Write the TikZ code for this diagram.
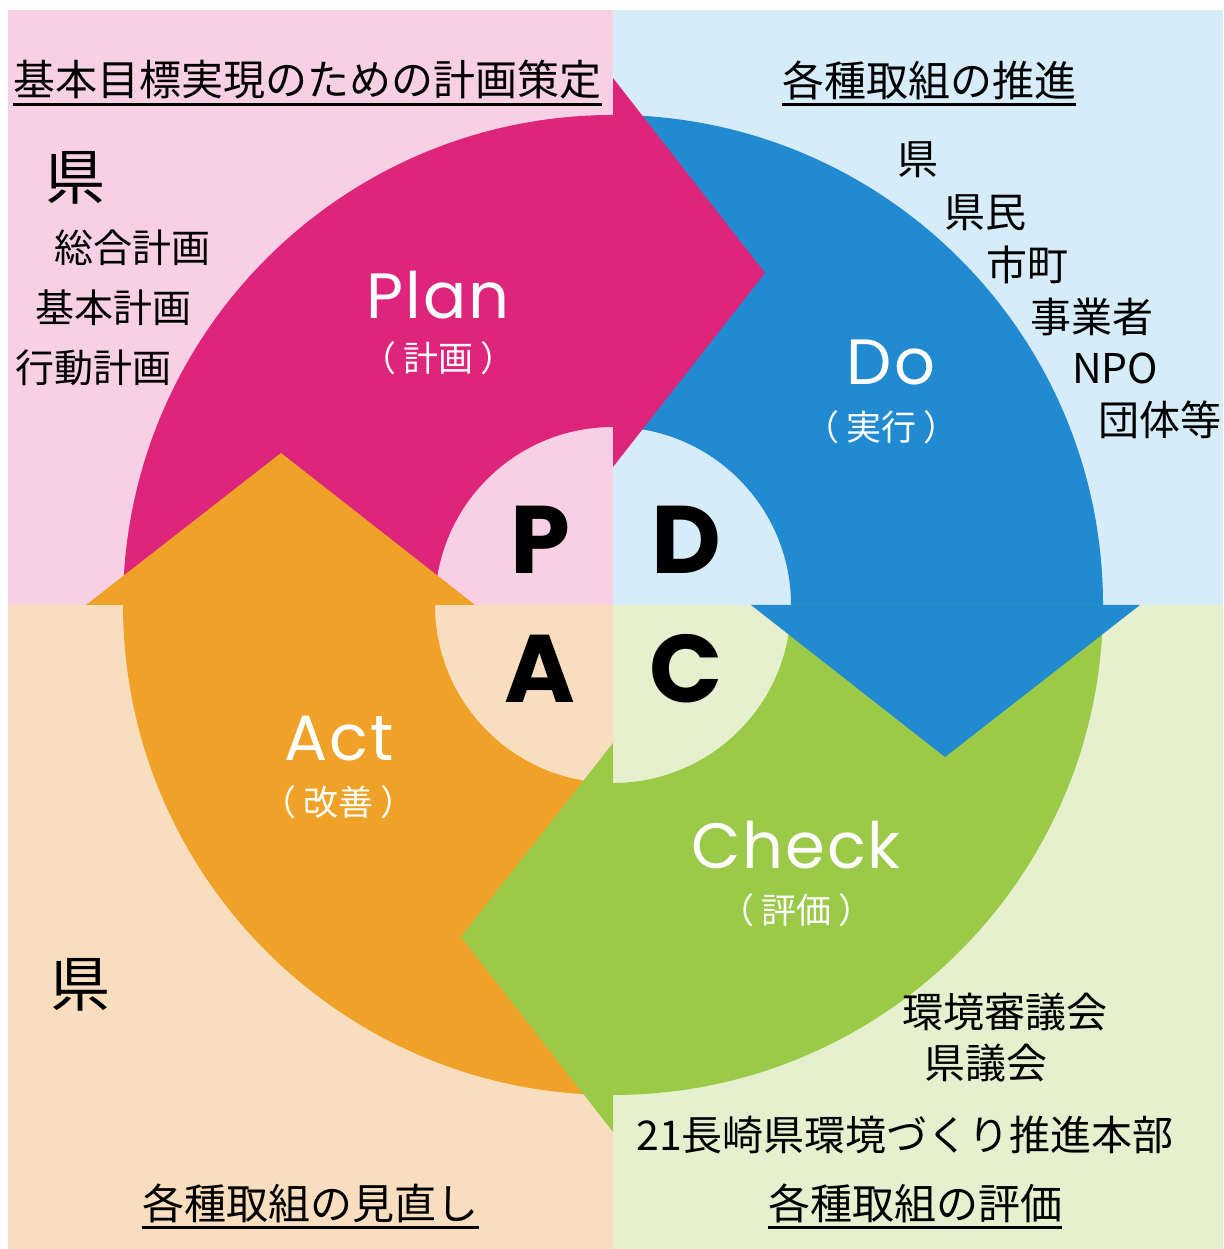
\documentclass[tikz,border=0pt]{standalone}
\usepackage{fontspec}
\setmainfont{Poppins}
\newfontfamily\latsp{Poppins}[LetterSpace=3]
\newfontfamily\jp{Noto Sans CJK JP}
\definecolor{bgP}{RGB}{247,208,227}
\definecolor{bgD}{RGB}{214,236,249}
\definecolor{bgA}{RGB}{248,222,190}
\definecolor{bgC}{RGB}{230,240,206}
\definecolor{arP}{RGB}{222,37,124}
\definecolor{arD}{RGB}{33,138,208}
\definecolor{arC}{RGB}{155,201,72}
\definecolor{arA}{RGB}{240,161,40}
\newcommand\parlbl[1]{（\hspace{7pt}#1\hspace{7pt}）}
\tikzset{
  hdr/.style={inner sep=0pt, font=\jp\fontsize{42}{42}\selectfont},
  lst/.style={inner sep=0pt, font=\jp\fontsize{39}{39}\selectfont},
  rlst/.style={inner sep=0pt, font=\jp\fontsize{41}{41}\selectfont},
  big/.style={inner sep=0pt, font=\jp\fontsize{60}{60}\selectfont},
  phase/.style={inner sep=0pt, text=white, font=\latsp\fontsize{64}{64}\selectfont},
  sub/.style={inner sep=0pt, text=white, font=\jp\fontsize{35}{35}\selectfont},
  letter/.style={inner sep=0pt, font=\bfseries\fontsize{96}{96}\selectfont},
  uline/.style={line width=2.6pt, black}
}
\begin{document}
\begin{tikzpicture}[x=1pt,y=1pt]
\useasboundingbox (0,0) rectangle (1223,1249);
\fill[white] (0,0) rectangle (1223,1249);
% quadrant backgrounds
\fill[bgP] (8,644) rectangle (613,1239);
\fill[bgD] (613,644) rectangle (1223,1239);
\fill[bgA] (8,0) rectangle (613,644);
\fill[bgC] (613,0) rectangle (1223,644);
% arrow bodies
\fill[arP] (123,644) arc[start angle=180,end angle=90,radius=490] -- (613,822) arc[start angle=90,end angle=180,radius=178] -- cycle;
\fill[arD] (613,1134) arc[start angle=90,end angle=0,radius=490] -- (791,644) arc[start angle=0,end angle=90,radius=178] -- cycle;
\fill[arC] (1103,644) arc[start angle=0,end angle=-90,radius=490] -- (613,466) arc[start angle=-90,end angle=0,radius=178] -- cycle;
\fill[arA] (613,154) arc[start angle=-90,end angle=-180,radius=490] -- (435,644) arc[start angle=180,end angle=270,radius=178] -- cycle;
% arrow heads
\fill[arP] (613,1171) -- (765,976) -- (613,782) -- cycle;
\fill[arD] (1140,644) -- (945,492) -- (751,644) -- cycle;
\fill[arC] (613,117) -- (461,312) -- (613,506) -- cycle;
\fill[arA] (86,644) -- (281,796) -- (475,644) -- cycle;
% headers
\node[hdr] (hP) at (307.5,1169) {基本目標実現のための計画策定};
\draw[uline] ([yshift=-5pt]hP.south west) -- ([yshift=-5pt]hP.south east);
\node[hdr] (hD) at (929,1169) {各種取組の推進};
\draw[uline] ([yshift=-5pt]hD.south west) -- ([yshift=-5pt]hD.south east);
\node[hdr] (hA) at (310.5,46) {各種取組の見直し};
\draw[uline] ([yshift=-5pt]hA.south west) -- ([yshift=-5pt]hA.south east);
\node[hdr] (hC) at (915,46) {各種取組の評価};
\draw[uline] ([yshift=-5pt]hC.south west) -- ([yshift=-5pt]hC.south east);
% left top list
\node[big] (k1) at (75,1071) {県};
\node[lst] (l1) at (132,1001) {総合計画};
\node[lst] (l2) at (113,941) {基本計画};
\node[lst] (l3) at (93,881) {行動計画};
% right top list
\node[rlst] (r1) at (918,1089) {県};
\node[rlst] (r2) at (985,1036) {県民};
\node[rlst] (r3) at (1027,984) {市町};
\node[rlst] (r4) at (1092,932) {事業者};
\node[rlst] (r5) at (1115,881) {NPO};
\node[rlst] (r6) at (1160,829) {団体等};
% bottom left
\node[big] (k2) at (80,264) {県};
% bottom right
\node[rlst] (b1) at (1005,237) {環境審議会};
\node[rlst] (b2) at (986,186) {県議会};
\node[rlst] (b3) at (905,114) {21長崎県環境づくり推進本部};
% phase labels
\node[phase] (plan) at (438,954) {Plan};
\node[sub] (plans) at (438,891) {\parlbl{計画}};
\node[phase] (do) at (891,887) {Do};
\node[sub] (dos) at (881,822) {\parlbl{実行}};
\node[phase] (check) at (796,404) {Check};
\node[sub] (checks) at (796,339) {\parlbl{評価}};
\node[phase] (act) at (339,510) {Act};
\node[sub] (acts) at (338,447) {\parlbl{改善}};
% center letters
\node[letter] (lP) at (540,709) {P};
\node[letter] (lD) at (686,709) {D};
\node[letter] (lA) at (540,580) {A};
\node[letter] (lC) at (686,580) {C};
\end{tikzpicture}
\end{document}
